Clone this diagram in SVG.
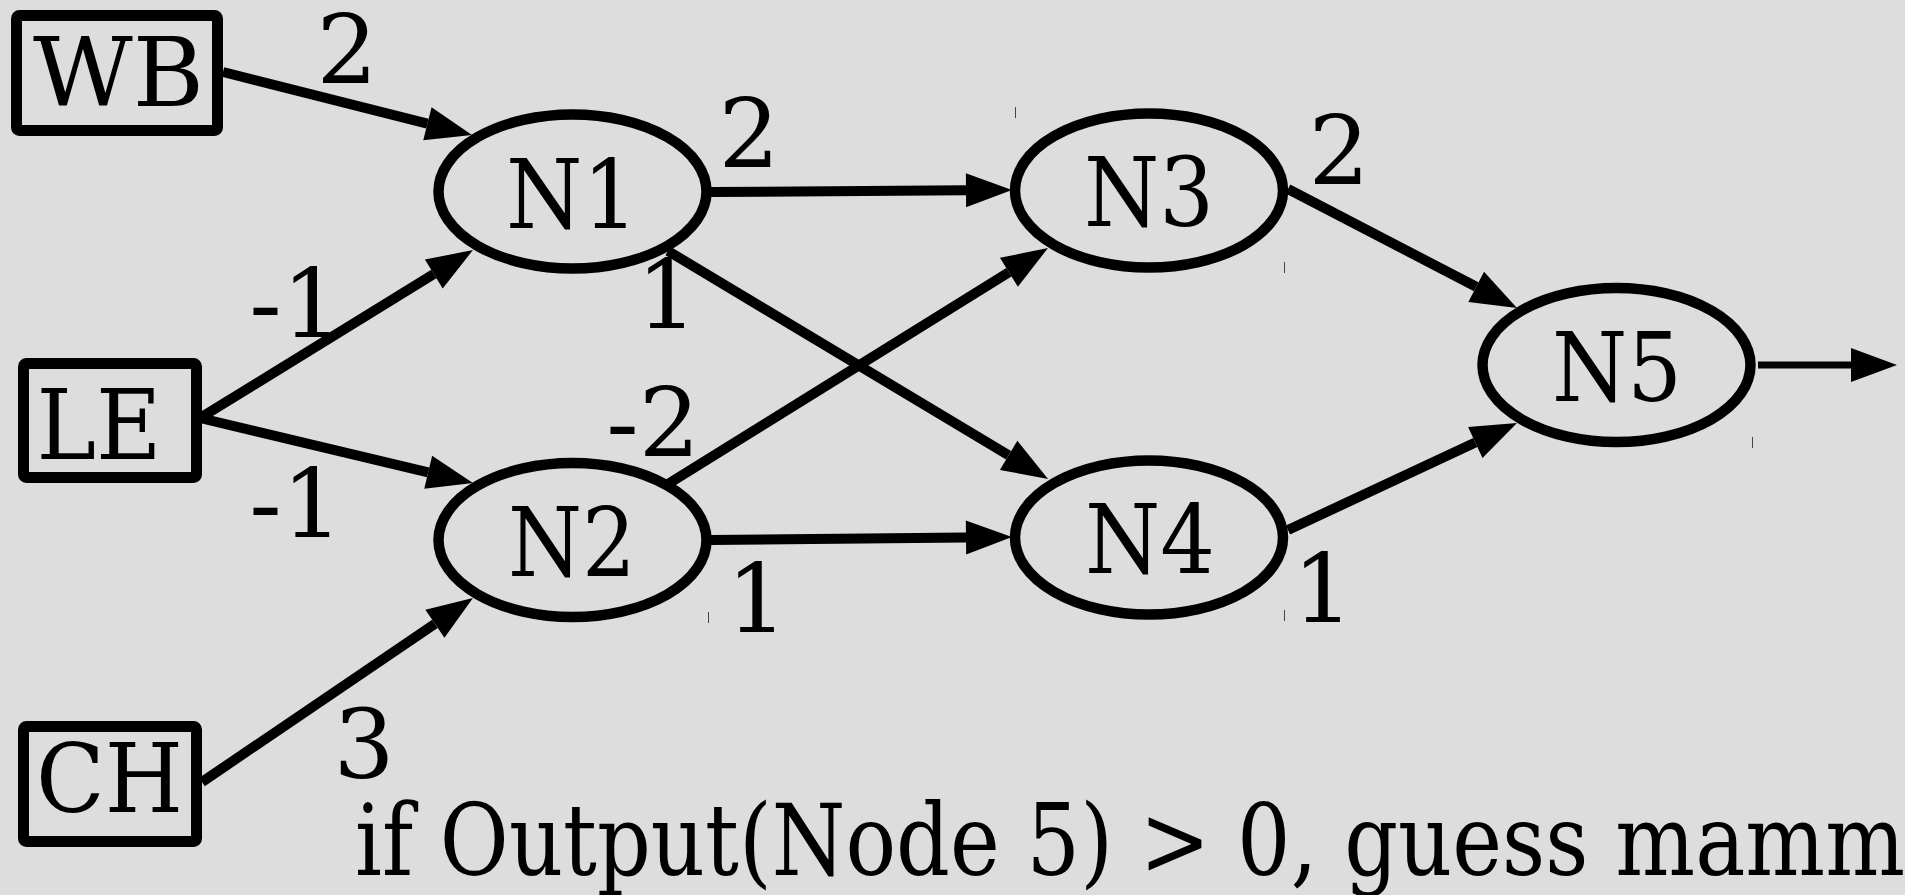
<svg xmlns="http://www.w3.org/2000/svg" width="1905" height="895" viewBox="0 0 1905 895">
<style>
.box{fill:none;stroke:#000;stroke-width:11;stroke-linejoin:round}
.node{fill:none;stroke:#000;stroke-width:10.5}
.edge{fill:none;stroke:#000;stroke-width:10;marker-end:url(#ah)}
.out{fill:none;stroke:#000;stroke-width:7;marker-end:url(#ah)}
.t{font-family:"DejaVu Serif","Liberation Serif",serif;fill:#000}
.lbl{font-size:96px;text-anchor:middle}
.w{font-family:"DejaVu Serif","Liberation Serif",serif;font-size:96px;text-anchor:middle;fill:#000}
.tick{stroke:#444;stroke-width:1}
</style>
<defs>
<marker id="ah" markerUnits="userSpaceOnUse" viewBox="0 -17 46 34" refX="0" refY="0" markerWidth="46" markerHeight="34" orient="auto" overflow="visible">
<path d="M0,-17 L46,0 L0,17 z" fill="#000"/>
</marker>
</defs>
<rect width="1905" height="895" fill="#dddddd"/>
<g id="connectors">
<line class="edge" x1="223" y1="72" x2="427.4" y2="123.7"/>
<line class="edge" x1="200" y1="418" x2="433.8" y2="274.1"/>
<line class="edge" x1="200" y1="418" x2="428.2" y2="472.3"/>
<line class="edge" x1="202" y1="782" x2="434.9" y2="623.8"/>
<line class="edge" x1="711" y1="192" x2="966" y2="190.3"/>
<line class="edge" x1="668" y1="251" x2="1008.6" y2="455.3"/>
<line class="edge" x1="668" y1="484" x2="1008.9" y2="272.3"/>
<line class="edge" x1="711" y1="540" x2="966" y2="537.5"/>
<line class="edge" x1="1288" y1="189" x2="1476.2" y2="286.8"/>
<line class="edge" x1="1288" y1="530" x2="1475.3" y2="442.5"/>
<line class="out" x1="1758" y1="365" x2="1851" y2="365"/>
</g>
<g id="weights">
<text class="w" x="347" y="83">2</text>
<text class="w" x="296" y="337">-1</text>
<text class="w" x="296" y="537">-1</text>
<text class="w" x="364" y="778">3</text>
<text class="w" x="749" y="167">2</text>
<text class="w" x="667" y="328">1</text>
<text class="w" x="653" y="456">-2</text>
<text class="w" x="757" y="632">1</text>
<text class="w" x="1339" y="184">2</text>
<text class="w" x="1323" y="622">1</text>
</g>
<g id="WB">
<rect class="box" x="16.5" y="15.5" width="201" height="115" rx="3"/>
<text class="t lbl" x="118.5" y="106" font-size="100" textLength="171" lengthAdjust="spacingAndGlyphs">WB</text>
</g>
<g id="LE">
<rect class="box" x="23.5" y="363.5" width="173" height="114" rx="3"/>
<text class="t lbl" x="99" y="459" style="font-size:97px" textLength="125" lengthAdjust="spacingAndGlyphs">LE</text>
</g>
<g id="CH">
<rect class="box" x="23.5" y="726.5" width="173" height="115" rx="3"/>
<text class="t lbl" x="109.5" y="812" style="font-size:95px" textLength="147" lengthAdjust="spacingAndGlyphs">CH</text>
</g>
<g id="N1">
<ellipse class="node" cx="572.5" cy="191.5" rx="134" ry="77"/>
<text class="t lbl" x="572" y="228" textLength="132" lengthAdjust="spacingAndGlyphs">N1</text>
</g>
<g id="N2">
<ellipse class="node" cx="572.5" cy="540" rx="134" ry="77"/>
<text class="t lbl" x="572" y="576" textLength="128" lengthAdjust="spacingAndGlyphs">N2</text>
</g>
<g id="N3">
<ellipse class="node" cx="1149" cy="190.5" rx="134" ry="77"/>
<text class="t lbl" x="1149" y="226" textLength="130" lengthAdjust="spacingAndGlyphs">N3</text>
</g>
<g id="N4">
<ellipse class="node" cx="1149" cy="537.5" rx="134" ry="77"/>
<text class="t lbl" x="1150" y="573" textLength="130" lengthAdjust="spacingAndGlyphs">N4</text>
</g>
<g id="N5">
<ellipse class="node" cx="1616.5" cy="365" rx="134" ry="77"/>
<text class="t lbl" x="1617" y="401" textLength="130" lengthAdjust="spacingAndGlyphs">N5</text>
</g>
<g id="caption">
<text class="t" x="355" y="875" font-size="100" textLength="1550" lengthAdjust="spacingAndGlyphs">if Output(Node 5) &gt; 0, guess mamm</text>
</g>
<g id="ticks">
<line class="tick" x1="1015.5" y1="107" x2="1015.5" y2="118"/>
<line class="tick" x1="1284.5" y1="262" x2="1284.5" y2="273"/>
<line class="tick" x1="708.5" y1="612" x2="708.5" y2="623"/>
<line class="tick" x1="1284.5" y1="610" x2="1284.5" y2="621"/>
<line class="tick" x1="1752.5" y1="437" x2="1752.5" y2="448"/>
</g>
</svg>
